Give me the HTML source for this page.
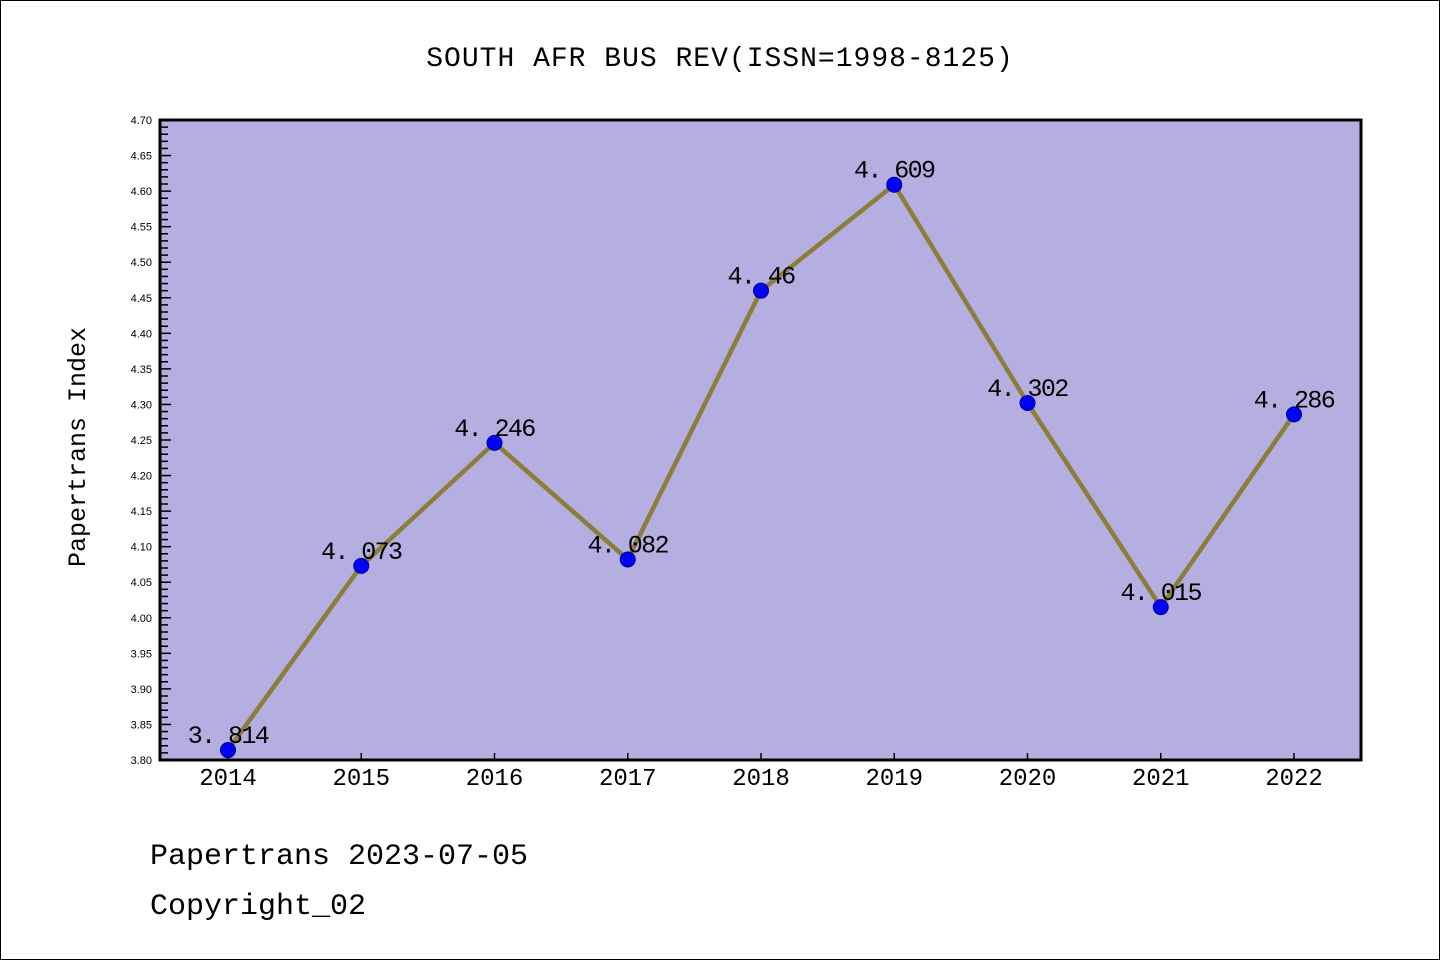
<!DOCTYPE html>
<html><head><meta charset="utf-8"><style>
html,body{margin:0;padding:0;background:#fff;}
svg{display:block;font-family:"Liberation Mono","WenQuanYi Zen Hei",monospace;}
</style></head><body>
<svg id="chart" width="1440" height="960" viewBox="0 0 1440 960">
<rect x="0.5" y="0.5" width="1439" height="959" fill="#fff" stroke="#000"/>
<text x="720" y="66" text-anchor="middle" font-size="28" letter-spacing="1">SOUTH AFR BUS REV(ISSN=1998-8125)</text>
<rect x="160" y="120" width="1201" height="640" fill="#b5aee1"/>
<g id="yaxis"></g>
<g id="xaxis"></g>
<g id="series"></g>
<rect x="160" y="120" width="1201" height="640" fill="none" stroke="#000" stroke-width="3"/>
<text transform="translate(85,447) rotate(-90)" text-anchor="middle" font-size="25">Papertrans Index</text>
<text x="150" y="864" font-size="30">Papertrans 2023-07-05</text>
<text x="150" y="914" font-size="30">Copyright_02</text>
</svg>
<script>
const categories = ["2014","2015","2016","2017","2018","2019","2020","2021","2022"];
const values = [3.814,4.073,4.246,4.082,4.46,4.609,4.302,4.015,4.286];
const valueLabels = ["3.814","4.073","4.246","4.082","4.46","4.609","4.302","4.015","4.286"];
const yTicks = ["3.80","3.85","3.90","3.95","4.00","4.05","4.10","4.15","4.20","4.25","4.30","4.35","4.40","4.45","4.50","4.55","4.60","4.65","4.70"];
const yMin = 3.80, yMax = 4.70;
const NS = "http://www.w3.org/2000/svg";
function y(v){return 760 - (v - yMin)/(yMax - yMin)*640;}
function x(i){return 228 + i*(1294-228)/(categories.length-1);}
function mk(tag, attrs, parent){const e=document.createElementNS(NS,tag);for(const k in attrs)e.setAttribute(k,attrs[k]);parent.appendChild(e);return e;}
const ya=document.getElementById('yaxis'), xa=document.getElementById('xaxis'), sr=document.getElementById('series');
for(let k=0;k<=Math.round((yMax-yMin)*100);k++){
  const v=yMin+k*0.01, yy=y(v), major=k%5===0;
  const t=mk('line',{x1:160,x2:major?171:168,y1:yy,y2:yy,stroke:'#000','stroke-width':1.5},ya);
  
  
}
yTicks.forEach(l=>{
  const t=mk('text',{x:152,y:y(parseFloat(l))+4,'text-anchor':'end','font-size':11,'font-family':'Liberation Sans, sans-serif'},ya);
  t.textContent=l;
  
  
});
categories.forEach((c,i)=>{
  const tk=mk('line',{x1:x(i),x2:x(i),y1:760,y2:753,stroke:'#000','stroke-width':1.5},xa);
  
  
  const t=mk('text',{x:x(i),y:785,'text-anchor':'middle','font-size':24},xa);
  t.textContent=c;
  
  
});
const pts=values.map((v,i)=>x(i)+','+y(v)).join(' ');
const pl=mk('polyline',{points:pts,fill:'none',stroke:'#8b7d3a','stroke-width':4.5,'stroke-linejoin':'round'},sr);


values.forEach((v,i)=>{
  const c=mk('circle',{cx:x(i),cy:y(v),r:7.5,fill:'#0000ff',stroke:'#00008b','stroke-width':1},sr);
  
  
  const t=mk('text',{x:x(i),y:y(v)-7,'text-anchor':'middle','font-size':25,'letter-spacing':-1.6},sr);
  t.textContent=valueLabels[i].replace('.', '. ');
  
  
});
</script>
</body></html>
